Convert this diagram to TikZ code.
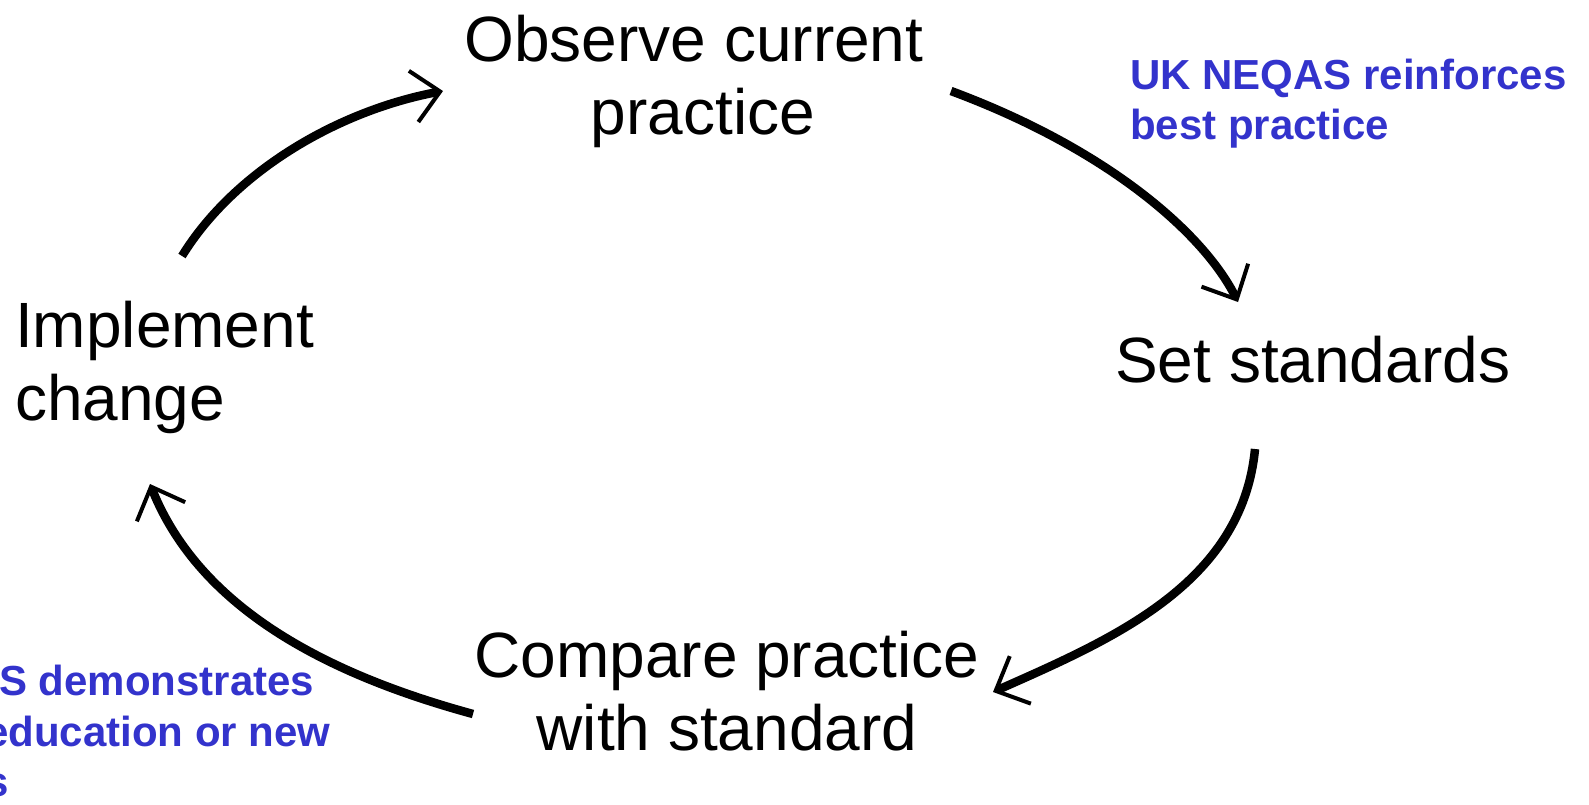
\documentclass[tikz,border=0pt]{standalone}
\usepackage{fontspec}
\setmainfont{Liberation Sans}
\usetikzlibrary{arrows.meta}
\definecolor{neqasblue}{HTML}{3333CC}
\begin{document}
\begin{tikzpicture}[x=1pt,y=-1pt,
  stage/.style={inner sep=0pt,font=\fontsize{64}{73}\selectfont},
  note/.style={inner sep=0pt,text=neqasblue,font=\fontsize{42}{50}\selectfont\bfseries,align=left},
  cyc/.style={line width=8.5pt,-{Straight Barb[length=27pt,width=52pt,line width=4pt]}}]
\useasboundingbox (0,0) rectangle (1589,804);
% stages (base anchor = baseline of the last line)
\node[stage,align=center,anchor=base] (obs) at (703,134) {Observe current\hspace*{18pt}\\practice};
\node[stage,anchor=base west] (set) at (1115,382) {Set standards};
\node[stage,align=center,anchor=base] (cmp) at (727,750) {Compare practice\\with standard};
\node[stage,align=left,anchor=base west] (imp) at (15,420) {Implement\\change};
% notes
\node[note,anchor=base west] (n1) at (1130,139) {UK NEQAS reinforces\\best practice};
\node[note,anchor=base west] (n2a) at (-1,695) {S demonstrates};
\node[note,anchor=base west] (n2b) at (-15,796) {education or new\\s};
% connector ends
\coordinate (a1s) at (951,91);   \coordinate (a1e) at (1238,302);
\coordinate (a2s) at (1255,449); \coordinate (a2e) at (993,692);
\coordinate (a3s) at (473,714);  \coordinate (a3e) at (150,484);
\coordinate (a4s) at (182,256);  \coordinate (a4e) at (443,91);
\draw[cyc] (a1s) .. controls (1110,150) and (1205,235) .. (a1e);
\draw[cyc] (a2s) .. controls (1242,585) and (1110,640) .. (a2e);
\draw[cyc] (a3s) .. controls (330,675) and (200,610) .. (a3e);
\draw[cyc] (a4s) .. controls (235,170) and (340,110) .. (a4e);
\end{tikzpicture}
\end{document}
